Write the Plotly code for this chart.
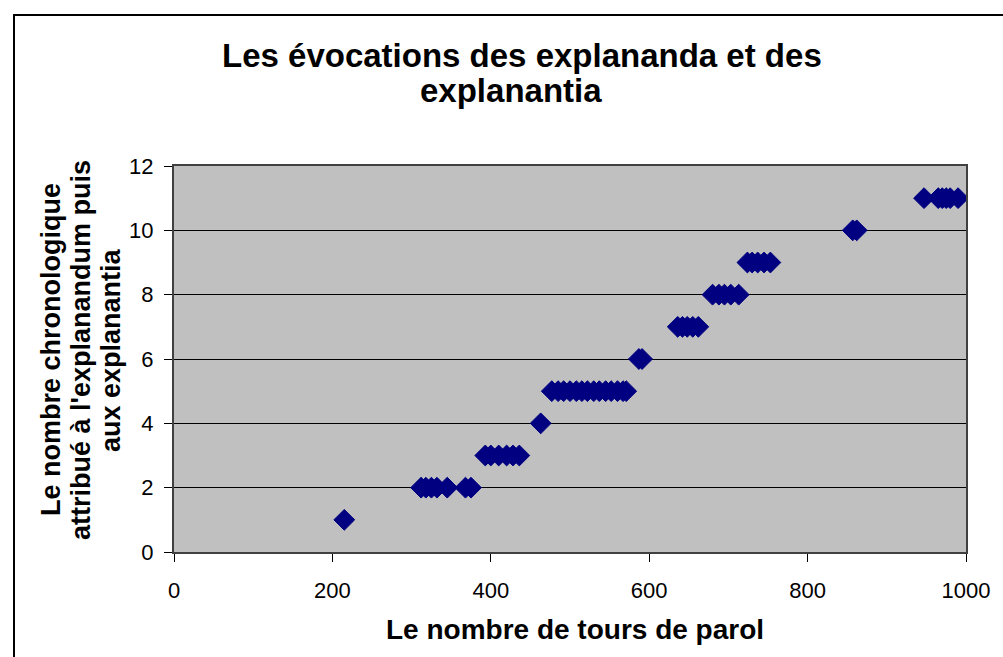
import plotly.graph_objects as go

# Data
x_tours = [215,
           312, 318, 325, 332, 345, 368, 375,
           393, 400, 410, 420, 428, 436,
           463,
           477, 485, 492, 500, 508, 515, 522, 530, 537, 545, 552, 560, 567, 571,
           587, 591,
           636, 642, 648, 655, 662,
           680, 688, 695, 703, 713,
           724, 730, 737, 745, 753,
           857, 862,
           947, 965, 970, 975, 980, 990]
y_rang = [1,
          2, 2, 2, 2, 2, 2, 2,
          3, 3, 3, 3, 3, 3,
          4,
          5, 5, 5, 5, 5, 5, 5, 5, 5, 5, 5, 5, 5, 5,
          6, 6,
          7, 7, 7, 7, 7,
          8, 8, 8, 8, 8,
          9, 9, 9, 9, 9,
          10, 10,
          11, 11, 11, 11, 11, 11]

title_lines = ["Les évocations des explananda et des", "explanantia"]
x_title = "Le nombre de tours de parol"
y_title_lines = ["Le nombre chronologique", "attribué à l'explanandum puis",
                 "aux explanantia"]

FONT = "Liberation Sans, Arial, sans-serif"

fig = go.Figure()
fig.add_trace(go.Scatter(
    x=x_tours, y=y_rang, mode="markers",
    marker=dict(symbol="diamond", size=16, color="#000080",
                line=dict(color="#000080", width=1)),
    showlegend=False,
))

W, H = 1003, 657
L, R, T, B = 174, 37, 166, 105
pw = W - L - R
ph = H - T - B


def px2paper_x(px):
    return (px - L) / pw


def px2paper_y(py):
    return (H - B - py) / ph


fig.update_layout(
    width=W, height=H,
    margin=dict(l=L, r=R, t=T, b=B, autoexpand=False),
    paper_bgcolor="white",
    plot_bgcolor="#C0C0C0",
    font=dict(family=FONT, color="black", size=22),
    xaxis=dict(range=[0, 1000], dtick=200, tick0=0,
               showgrid=False, zeroline=False,
               showline=True, linecolor="#404040", linewidth=2, mirror=True,
               ticks="outside", ticklen=8, tickcolor="black", tickwidth=1,
               ticklabelstandoff=10,
               tickfont=dict(size=22, family=FONT)),
    yaxis=dict(range=[0, 12], dtick=2, tick0=0,
               showgrid=True, gridcolor="black", gridwidth=1,
               zeroline=False,
               showline=True, linecolor="#404040", linewidth=2, mirror=True,
               ticks="outside", ticklen=8, tickcolor="black", tickwidth=1,
               ticklabelstandoff=6,
               tickfont=dict(size=22, family=FONT)),
)

# chart title (two lines)
for txt, xc, yc in zip(title_lines, [522, 511], [55, 91]):
    fig.add_annotation(text="<b>" + txt + "</b>", xref="paper", yref="paper",
                       x=px2paper_x(xc), y=px2paper_y(yc),
                       xanchor="center", yanchor="middle", showarrow=False,
                       font=dict(family=FONT, size=33, color="black"))

fig.add_annotation(text="<b>" + x_title + "</b>", xref="paper", yref="paper",
                   x=px2paper_x(575), y=px2paper_y(629),
                   xanchor="center", yanchor="middle", showarrow=False,
                   font=dict(family=FONT, size=28, color="black"))

for txt, xc in zip(y_title_lines, [51, 81, 111]):
    fig.add_annotation(text="<b>" + txt + "</b>", xref="paper", yref="paper",
                       x=px2paper_x(xc), y=px2paper_y(350), textangle=-90,
                       xanchor="center", yanchor="middle", showarrow=False,
                       font=dict(family=FONT, size=27, color="black"))

# outer chart border
fig.add_shape(type="rect", xref="paper", yref="paper",
              x0=px2paper_x(14), x1=px2paper_x(1012),
              y0=px2paper_y(670), y1=px2paper_y(15),
              line=dict(color="black", width=2), fillcolor="rgba(0,0,0,0)",
              layer="below")

fig.write_html("out.html",
               config={"displayModeBar": False},
               post_script="document.body.style.margin='0';document.body.style.overflow='hidden';")
